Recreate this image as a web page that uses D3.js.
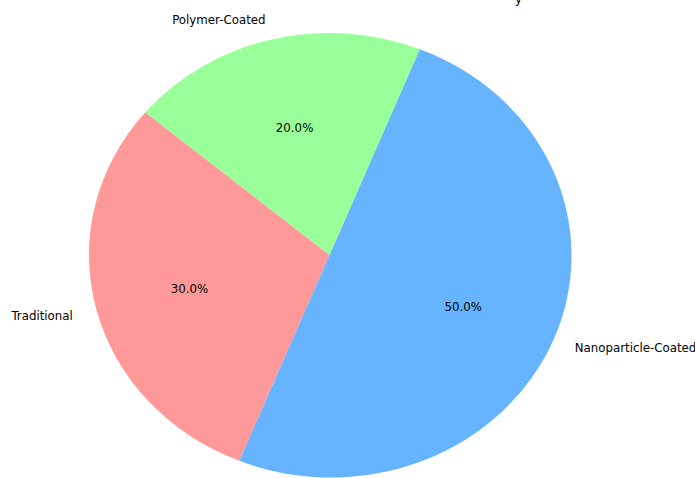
<!DOCTYPE html>
<html>
<head>
<meta charset="utf-8">
<script src="https://cdn.jsdelivr.net/npm/d3@7"></script>
<style>
  html, body { margin: 0; padding: 0; background: #fff; }
  svg { display: block; }
  text { font-family: "DejaVu Sans", sans-serif; fill: #000; }
</style>
</head>
<body>
<svg id="chart" width="695" height="478"></svg>
<script>
// Data (counter-clockwise order from the start angle)
const categories = ["Traditional", "Nanoparticle-Coated", "Polymer-Coated"];
const values = [30, 50, 20];
const colors = ["#ff9999", "#66b3ff", "#99ff99"];

const W = 695, H = 478;
const cx = 329.5, cy = 255;
const rx = 240.5, ry = 222;
const startDeg = 140; // matplotlib-style start angle (ccw from +x)

const svg = d3.select("#chart");
const toRad = d => d * Math.PI / 180;

const pie = d3.pie()
  .sort(null)
  .value(d => d.value)
  .startAngle(toRad(90 - startDeg))
  .endAngle(toRad(90 - startDeg - 360));

const data = categories.map((c, i) => ({ name: c, value: values[i], color: colors[i] }));
const arcs = pie(data);

const arc = d3.arc().innerRadius(0).outerRadius(1);

const g = svg.append("g").attr("transform", `translate(${cx},${cy})`);

g.append("g")
  .attr("transform", `scale(${rx},${ry})`)
  .selectAll("path")
  .data(arcs)
  .enter().append("path")
  .attr("d", arc)
  .attr("fill", d => d.data.color);

const total = d3.sum(values);
const mid = d => (d.startAngle + d.endAngle) / 2;
const fs = "11.8px";

// outer labels
g.selectAll("text.label")
  .data(arcs)
  .enter().append("text")
  .attr("class", "label")
  .attr("x", d => Math.sin(mid(d)) * 1.1 * rx)
  .attr("y", d => -Math.cos(mid(d)) * 1.1 * ry + 2)
  .attr("text-anchor", d => Math.sin(mid(d)) > 0 ? "start" : "end")
  .attr("dominant-baseline", "central")
  .style("font-size", fs)
  .text(d => d.data.name);

// percentage labels
g.selectAll("text.pct")
  .data(arcs)
  .enter().append("text")
  .attr("class", "pct")
  .attr("x", d => Math.sin(mid(d)) * 0.6 * rx)
  .attr("y", d => -Math.cos(mid(d)) * 0.6 * ry + 2)
  .attr("text-anchor", "middle")
  .attr("dominant-baseline", "central")
  .style("font-size", fs)
  .text(d => (d.data.value / total * 100).toFixed(1) + "%");

// clipped fragment of text at the top edge
svg.append("text")
  .attr("x", 515)
  .attr("y", 3)
  .style("font-size", fs)
  .text("y");
</script>
</body>
</html>
